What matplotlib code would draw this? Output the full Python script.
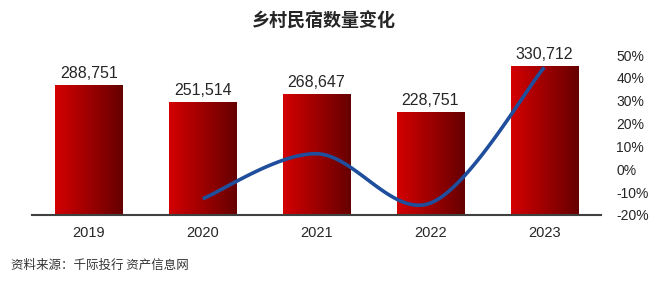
import numpy as np
import matplotlib
matplotlib.use('Agg')
import matplotlib.pyplot as plt
from matplotlib.colors import LinearSegmentedColormap

plt.rcParams['font.family'] = ['Liberation Sans', 'Noto Sans CJK SC', 'DejaVu Sans']

# 数据
years = ['2019', '2020', '2021', '2022', '2023']
counts = [288751, 251514, 268647, 228751, 330712]
count_labels = ['288,751', '251,514', '268,647', '228,751', '330,712']
growth_years = [1, 2, 3, 4]
growth = [-12.9, 6.8, -14.8, 44.6]  # 同比变化 %
right_ticks = [-20, -10, 0, 10, 20, 30, 40, 50]


def catmull_rom(xs, ys, n=40):
    # 平滑折线（类似 Excel 平滑线）
    px = [xs[0]] + list(xs) + [xs[-1]]
    py = [ys[0]] + list(ys) + [ys[-1]]
    out_x, out_y = [], []
    for i in range(1, len(px) - 2):
        t = np.linspace(0, 1, n)
        for arr, out in ((px, out_x), (py, out_y)):
            p0, p1, p2, p3 = arr[i - 1], arr[i], arr[i + 1], arr[i + 2]
            out.extend(0.5 * (2 * p1 + (-p0 + p2) * t + (2 * p0 - 5 * p1 + 4 * p2 - p3) * t ** 2
                              + (-p0 + 3 * p1 - 3 * p2 + p3) * t ** 3))
    return out_x, out_y


fig = plt.figure(figsize=(6.65, 2.88), dpi=100)
ax = fig.add_axes([0.048, 0.2535, 0.856, 0.5555])
ax2 = ax.twinx()

x = np.arange(len(years))
bars = ax.bar(x, counts, width=0.59, color='none', edgecolor='none')
cmap = LinearSegmentedColormap.from_list('red', ['#d40000', '#660000'])
grad = np.linspace(0, 1, 256).reshape(1, -1)
for b in bars:
    x0, w, h = b.get_x(), b.get_width(), b.get_height()
    im = ax.imshow(grad, cmap=cmap, aspect='auto', extent=[x0, x0 + w, 0, h], zorder=2)
    im.set_clip_path(b)

for xi, c, lab in zip(x, counts, count_labels):
    ax.text(xi, c + 9000, lab, ha='center', va='bottom', fontsize=11.5, color='#262626')

ax.set_xlim(-0.5, 4.5)
ax.set_ylim(0, 355400)
ax.set_xticks(x)
ax.set_xticklabels(years, fontsize=10.5, color='#262626')
ax.tick_params(axis='x', length=0, pad=8)
ax.set_yticks([])
for s in ['top', 'left', 'right']:
    ax.spines[s].set_visible(False)
ax.spines['bottom'].set_color('#404040')
ax.spines['bottom'].set_linewidth(1.5)
ax.spines['bottom'].set_zorder(5)

sx, sy = catmull_rom(growth_years, growth)
ax2.plot(sx, sy, color='#1f4e9c', linewidth=2.6, solid_capstyle='butt')
ax2.set_ylim(-20, 50)
ax2.set_yticks(right_ticks)
ax2.set_yticklabels([f'{t}%' for t in right_ticks], fontsize=10, color='#262626')
ax2.tick_params(axis='y', length=0, pad=11)
for s in ['top', 'left', 'right', 'bottom']:
    ax2.spines[s].set_visible(False)

fig.text(0.487, 0.925, '乡村民宿数量变化', ha='center', va='center', fontsize=13,
         fontweight='bold', family=['Noto Sans CJK SC'], color='#262626')
fig.text(0.016, 0.078, '资料来源：千际投行 资产信息网', ha='left', va='center', fontsize=9,
         style='italic', family=['Noto Sans CJK SC'], color='#333333')

fig.savefig('out.png', dpi=100)
